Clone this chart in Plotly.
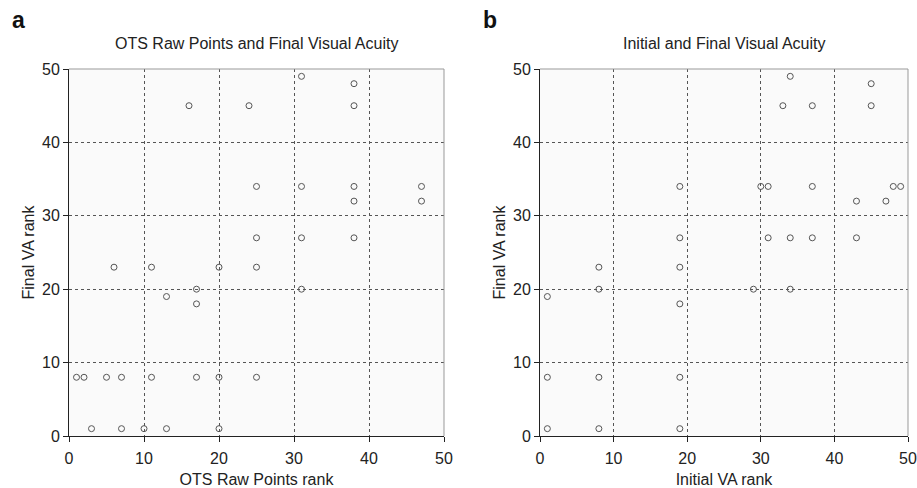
import plotly.graph_objects as go

# Panel a: OTS Raw Points rank vs Final VA rank
ots_rank = [1, 2, 5, 7, 11, 17, 20, 25,
            3, 7, 10, 13, 20,
            6, 11, 20, 25,
            17, 17, 13, 31,
            25, 31, 38,
            25, 31, 38, 47,
            38, 47,
            16, 24, 38,
            38, 31]
final_va_a = [8, 8, 8, 8, 8, 8, 8, 8,
              1, 1, 1, 1, 1,
              23, 23, 23, 23,
              18, 20, 19, 20,
              27, 27, 27,
              34, 34, 34, 34,
              32, 32,
              45, 45, 45,
              48, 49]

# Panel b: Initial VA rank vs Final VA rank
init_va = [1, 8, 19,
           1, 8, 19,
           1,
           8, 19,
           8, 29, 34,
           19, 31, 34, 37, 43,
           19,
           19, 30, 31, 37, 48, 49,
           43, 47,
           33, 37, 45,
           45, 34]
final_va_b = [8, 8, 8,
              1, 1, 1,
              19,
              23, 23,
              20, 20, 20,
              27, 27, 27, 27, 27,
              18,
              34, 34, 34, 34, 34, 34,
              32, 32,
              45, 45, 45,
              48, 49]

ticks = [0, 10, 20, 30, 40, 50]
titles = ["OTS Raw Points and Final Visual Acuity", "Initial and Final Visual Acuity"]
xtitles = ["OTS Raw Points rank", "Initial VA rank"]
ytitle = "Final VA rank"
panel_labels = ["a", "b"]

FONT = "Liberation Sans, Arial, sans-serif"
W, H = 917, 488
L, R, T, B = 69, 9, 69, 52
pw = W - L - R
ph = H - T - B
dom1 = [0, (444 - L) / pw]
dom2 = [(540 - L) / pw, 1]

fig = go.Figure()
marker = dict(symbol="circle-open", size=6, color="#555555", line=dict(width=1, color="#555555"))
fig.add_trace(go.Scatter(x=ots_rank, y=final_va_a, mode="markers", marker=marker,
                         xaxis="x", yaxis="y", showlegend=False))
fig.add_trace(go.Scatter(x=init_va, y=final_va_b, mode="markers", marker=marker,
                         xaxis="x2", yaxis="y2", showlegend=False))

axis_common = dict(range=[0, 50], tickvals=ticks, showgrid=True, gridcolor="#555555",
                   griddash="dot", gridwidth=1, zeroline=False, ticks="outside",
                   ticklen=5, tickcolor="#222222", showline=True, linecolor="#222222",
                   linewidth=1, ticklabeloverflow="allow", automargin=False,
                   tickfont=dict(family=FONT, size=16, color="#222222"))

fig.update_layout(
    width=W, height=H,
    margin=dict(l=L, r=R, t=T, b=B, autoexpand=False),
    paper_bgcolor="white",
    plot_bgcolor="#fafafa",
    font=dict(family=FONT, color="#222222"),
    xaxis=dict(domain=dom1, anchor="y", **axis_common, ticklabelstandoff=3,
               title=dict(text=xtitles[0], font=dict(size=16), standoff=11)),
    yaxis=dict(domain=[0, 1], anchor="x", **axis_common,
               title=dict(text=ytitle, font=dict(size=16), standoff=3)),
    xaxis2=dict(domain=dom2, anchor="y2", **axis_common, ticklabelstandoff=3,
                title=dict(text=xtitles[1], font=dict(size=16), standoff=11)),
    yaxis2=dict(domain=[0, 1], anchor="x2", **axis_common,
                title=dict(text=ytitle, font=dict(size=16), standoff=3)),
)

for i, dom in enumerate([dom1, dom2]):
    xr = "x" if i == 0 else "x2"
    yr = "y" if i == 0 else "y2"
    # gray frame on top and right
    fig.add_shape(type="line", xref=xr + " domain", yref=yr + " domain",
                  x0=0, x1=1, y0=1, y1=1, line=dict(color="#999999", width=1))
    fig.add_shape(type="line", xref=xr + " domain", yref=yr + " domain",
                  x0=1, x1=1, y0=0, y1=1, line=dict(color="#999999", width=1))
    fig.add_annotation(text=titles[i], xref="paper", yref="paper",
                       x=(dom[0] + dom[1]) / 2, y=(T + ph - 43) / ph,
                       xanchor="center", yanchor="middle", showarrow=False,
                       font=dict(family=FONT, size=16, color="#222222"))
    fig.add_annotation(text="<b>" + panel_labels[i] + "</b>", xref="paper", yref="paper",
                       x=((10 if i == 0 else 481) - L) / pw, y=(T + ph - 20) / ph,
                       xanchor="left", yanchor="middle", showarrow=False,
                       font=dict(family=FONT, size=23, color="#111111"))

fig.write_html("out.html", config={"displayModeBar": False},
               post_script="document.body.style.margin='0';document.body.style.overflow='hidden';")
